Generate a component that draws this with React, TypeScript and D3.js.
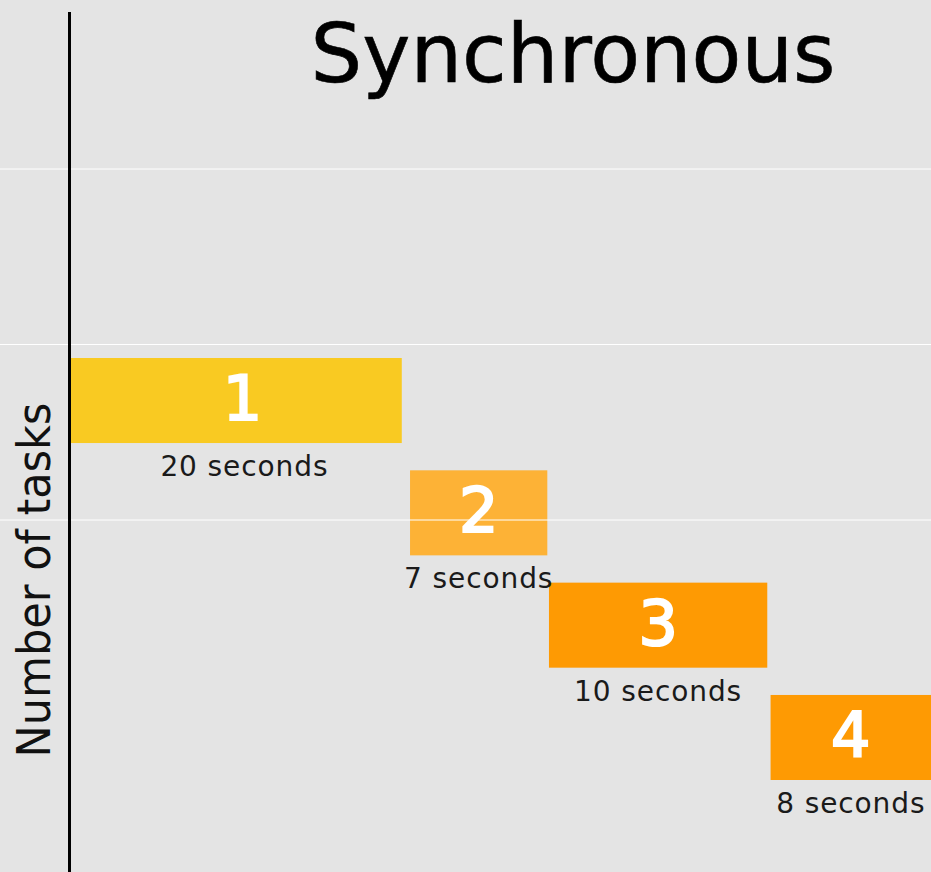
import React from "react";
import * as d3 from "d3";

// Task ids, durations and their place on the (unscaled) timeline
const tasks = ["1", "2", "3", "4"];
const durations = [20, 7, 10, 8];
const starts = [0, 20.5, 28.9, 42.3];
const ends = [20, 28.8, 42.1, 52];
const colors = ["#f9ca22", "#fdb236", "#fe9a03", "#fe9a03"];
const gridTicks = [1, 2, 3];

const width = 931;
const height = 872;
const font = "'DejaVu Sans', Verdana, sans-serif";

const App = () => {
  // X scale: timeline units to pixels
  const x = d3.scaleLinear().domain([0, 52]).range([71, 931]);

  // Y scale: one band per task
  const y = d3
    .scaleBand<string>()
    .domain(tasks)
    .range([358, 780])
    .paddingInner(0.243)
    .paddingOuter(0);

  // faint horizontal grid
  const yGrid = d3.scaleLinear().domain([0, 3]).range([695.5, 169]);

  return (
    <svg
      width={width}
      height={height}
      style={{ position: "absolute", left: 0, top: 0, background: "#e4e4e4" }}
    >
      <rect x={0} y={0} width={width} height={height} fill="#e4e4e4" />

      {/* Bars */}
      {tasks.map((t, i) => (
        <rect
          key={"bar" + t}
          x={x(starts[i])}
          y={y(t)}
          width={x(ends[i]) - x(starts[i])}
          height={y.bandwidth()}
          fill={colors[i]}
        />
      ))}

      {/* Grid lines drawn over the bars */}
      {gridTicks.map((g) => (
        <line
          key={"g" + g}
          x1={0}
          x2={width}
          y1={yGrid(g)}
          y2={yGrid(g)}
          stroke="#ffffff"
          strokeWidth={1}
        />
      ))}

      {/* Task numbers */}
      {tasks.map((t, i) => (
        <text
          key={"num" + t}
          x={(x(starts[i]) + x(ends[i])) / 2 + (i === 0 ? 6 : 0)}
          y={(y(t) ?? 0) + 62}
          textAnchor="middle"
          fill="#ffffff"
          stroke="#ffffff"
          strokeWidth={2.2}
          fontFamily={font}
          fontSize={62}
        >
          {t}
        </text>
      ))}

      {/* Duration labels */}
      {tasks.map((t, i) => (
        <text
          key={"dur" + t}
          x={(x(starts[i]) + x(ends[i])) / 2 + (i === 0 ? 8 : 0)}
          y={(y(t) ?? 0) + y.bandwidth() + 33}
          textAnchor="middle"
          fill="#1a1a1a"
          fontFamily={font}
          fontSize={28}
          letterSpacing={0.9}
        >
          {durations[i] + " seconds"}
        </text>
      ))}

      {/* Y axis line */}
      <line x1={69.5} x2={69.5} y1={12} y2={height} stroke="#000" strokeWidth={3} />

      {/* Y axis label */}
      <text
        transform="translate(50,580) rotate(-90)"
        textAnchor="middle"
        fill="#111"
        fontFamily={font}
        fontSize={47}
        textLength={355}
        lengthAdjust="spacingAndGlyphs"
      >
        Number of tasks
      </text>

      {/* Title */}
      <text
        x={573}
        y={82}
        textAnchor="middle"
        fill="#000"
        stroke="#000"
        strokeWidth={0.6}
        fontFamily={font}
        fontSize={82}
        textLength={525}
        lengthAdjust="spacingAndGlyphs"
      >
        Synchronous
      </text>
    </svg>
  );
};

export default App;
